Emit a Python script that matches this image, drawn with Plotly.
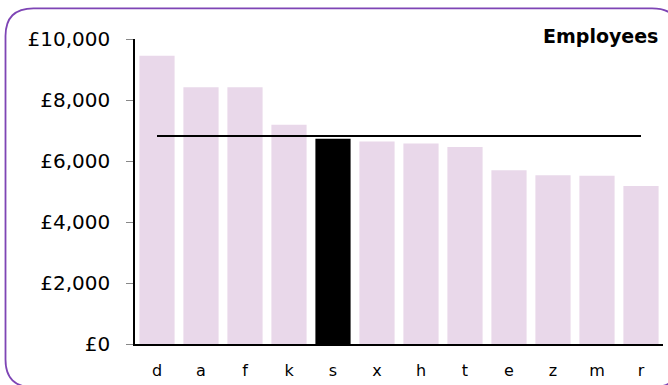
import plotly.graph_objects as go

categories = ["d", "a", "f", "k", "s", "x", "h", "t", "e", "z", "m", "r"]
values = [9450, 8420, 8420, 7190, 6730, 6640, 6570, 6460, 5700, 5530, 5520, 5180]
highlight = "s"
average_value = 6820
title_text = "Employees"

bar_colors = ["#000000" if c == highlight else "#E9D8EA" for c in categories]

fig = go.Figure()
fig.add_trace(go.Bar(
    x=categories, y=values,
    marker=dict(color=bar_colors, line=dict(width=0)),
    showlegend=False, hoverinfo="x+y",
))
fig.add_trace(go.Scatter(
    x=categories, y=[average_value] * len(categories),
    mode="lines", line=dict(color="#000000", width=2.2),
    showlegend=False, hoverinfo="skip",
))

# plot area in pixels: x 135..663, y 38.5..346.3
L, R, T, B = 135, 663, 38.5, 346.3
W, H = R - L, B - T

def px(x):
    return (x - L) / W

def py(y):
    return (B - y) / H

# rounded border (extends past the right/bottom edges of the picture)
x0, x1, y0, y1, r = 5.5, 680, 7.5, 390, 28
path = (
    f"M {px(x0)},{py(y0 + r)} "
    f"Q {px(x0)},{py(y0)} {px(x0 + r)},{py(y0)} "
    f"L {px(x1 - r)},{py(y0)} "
    f"Q {px(x1)},{py(y0)} {px(x1)},{py(y0 + r)} "
    f"L {px(x1)},{py(y1 - r)} "
    f"Q {px(x1)},{py(y1)} {px(x1 - r)},{py(y1)} "
    f"L {px(x0 + r)},{py(y1)} "
    f"Q {px(x0)},{py(y1)} {px(x0)},{py(y1 - r)} Z"
)
fig.add_shape(type="path", path=path, xref="paper", yref="paper",
              line=dict(color="#7E45B5", width=1.8), fillcolor="rgba(0,0,0,0)",
              layer="above")

fig.add_annotation(text=f"<b>{title_text}</b>", xref="paper", yref="paper",
                   x=px(660), y=py(35), xanchor="right", yanchor="middle",
                   showarrow=False,
                   font=dict(family="Verdana, DejaVu Sans", size=19, color="#000000"))

fig.update_layout(
    width=668, height=385,
    margin=dict(l=L, r=668 - R, t=T, b=385 - B, pad=0),
    paper_bgcolor="#FFFFFF", plot_bgcolor="#FFFFFF",
    bargap=0.2,
    font=dict(family="Verdana, DejaVu Sans", color="#000000"),
    separators=".,",
)
fig.update_xaxes(
    type="category", range=[-0.5, 11.5],
    showline=True, linecolor="#000000", linewidth=1.5,
    showgrid=False, ticks="", ticklabelstandoff=11,
    tickfont=dict(size=16, color="#000000"),
    fixedrange=True,
)
fig.update_yaxes(
    range=[0, 10000], dtick=2000, tick0=0,
    tickprefix="£", tickformat=",d",
    showline=True, linecolor="#000000", linewidth=1.5,
    showgrid=False, zeroline=False,
    ticks="outside", ticklen=7, tickcolor="#888888", tickwidth=1,
    ticklabelstandoff=12,
    tickfont=dict(size=20, color="#000000"),
    fixedrange=True,
)

fig.write_html(
    "out.html",
    config={"displayModeBar": False},
    post_script="document.body.style.margin='0';document.body.style.overflow='hidden';",
)
